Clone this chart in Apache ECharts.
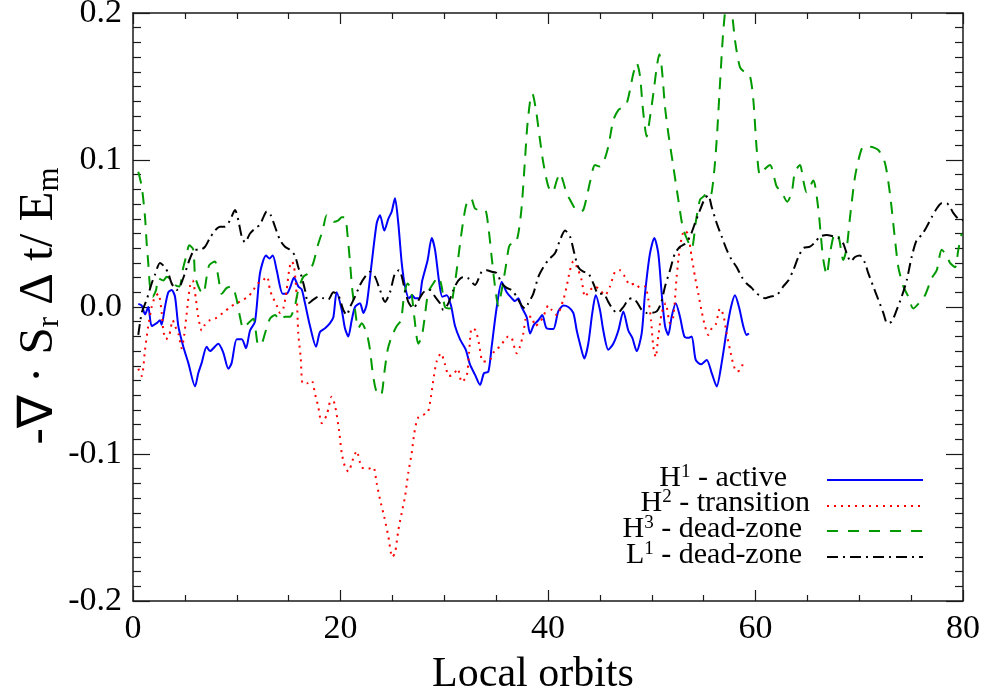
<!DOCTYPE html>
<html>
<head>
<meta charset="utf-8">
<script src="https://cdn.jsdelivr.net/npm/echarts@6/dist/echarts.min.js"></script>
<style>html,body{margin:0;padding:0;background:#fff;}#chart{width:987px;height:693px;}</style>
</head>
<body>
<div id="chart"></div>
<script>
// ---- data (x: local orbits, y: -div S_r dt / E_m) ----
const xTickValues = [0, 20, 40, 60, 80];
const xTickLabels = ['0', '20', '40', '60', '80'];
const yTickValues = [-0.2, -0.1, 0, 0.1, 0.2];
const yTickLabels = ['-0.2', '-0.1', '0.0', '0.1', '0.2'];
const seriesNames = ['H1 - active', 'H2 - transition', 'H3 - dead-zone', 'L1 - dead-zone'];

const h1Active = [[0.51,0.002],[0.84,0.001],[1.16,-0.005],[1.47,0.000],[1.80,-0.013],[2.28,-0.011],[2.60,-0.009],[2.76,-0.012],[3.08,0.000],[3.40,0.010],[3.73,0.0115],[4.05,0.007],[4.37,-0.013],[4.85,-0.027],[5.33,-0.038],[5.98,-0.054],[6.29,-0.045],[6.62,-0.038],[7.10,-0.027],[7.42,-0.030],[8.22,-0.025],[8.70,-0.031],[9.19,-0.042],[9.51,-0.038],[10.00,-0.022],[10.48,-0.022],[10.89,-0.028],[11.28,-0.016],[11.76,-0.010],[12.24,0.023],[12.82,0.035],[13.14,0.033],[13.47,0.035],[13.85,0.025],[14.43,0.009],[14.81,0.009],[15.13,0.013],[15.52,0.020],[15.93,0.014],[16.26,0.012],[16.58,0.0025],[17.06,-0.013],[17.64,-0.027],[18.02,-0.017],[18.51,-0.0145],[18.99,-0.011],[19.31,-0.007],[19.63,0.010],[20.12,-0.002],[20.43,-0.0145],[20.75,-0.020],[21.08,-0.009],[21.40,0.000],[21.88,0.0025],[22.20,-0.004],[22.53,0.002],[23.01,0.030],[23.49,0.057],[23.81,0.0625],[24.22,0.052],[24.61,0.060],[24.94,0.065],[25.25,0.074],[25.57,0.057],[25.90,0.030],[26.22,0.014],[26.60,0.006],[26.92,0.008],[27.18,0.006],[27.57,0.006],[27.88,0.018],[28.40,0.032],[28.79,0.047],[29.11,0.039],[29.49,0.018],[29.81,0.007],[30.24,0.008],[30.65,0.001],[31.04,-0.013],[31.52,-0.022],[32.07,-0.029],[32.48,-0.039],[32.96,-0.046],[33.45,-0.053],[33.83,-0.045],[34.25,-0.044],[34.57,-0.027],[35.06,0.000],[35.54,0.017],[36.02,0.010],[36.50,0.006],[36.82,0.004],[37.14,0.006],[37.46,0.000],[37.95,-0.007],[38.27,-0.018],[38.65,-0.012],[39.07,-0.009],[39.45,-0.0055],[39.87,-0.0145],[40.51,-0.015],[40.99,-0.003],[41.48,0.001],[41.96,0.000],[42.44,-0.004],[42.77,-0.016],[43.08,-0.025],[43.50,-0.035],[43.88,-0.025],[44.27,-0.004],[44.60,0.008],[45.01,-0.002],[45.33,-0.016],[45.81,-0.029],[46.29,-0.025],[46.78,-0.016],[47.26,-0.003],[47.74,-0.016],[48.13,-0.021],[48.55,-0.030],[49.03,-0.018],[49.35,0.009],[49.83,0.0365],[50.25,0.047],[50.63,0.0365],[50.96,0.009],[51.28,-0.013],[51.59,-0.019],[51.92,-0.0066],[52.31,0.0025],[52.72,-0.0066],[53.14,-0.020],[53.52,-0.021],[53.85,-0.020],[54.24,-0.036],[54.75,-0.039],[55.30,-0.036],[55.78,-0.045],[56.26,-0.054],[56.74,-0.038],[57.22,-0.016],[57.64,0.000],[58.02,0.008],[58.41,0.000],[58.82,-0.013],[59.15,-0.019],[59.37,-0.018]];

const h2Transition = [[0.51,-0.042],[0.84,-0.047],[1.16,-0.029],[1.47,-0.013],[1.80,0.000],[2.12,0.007],[2.44,0.009],[2.77,-0.004],[2.92,-0.016],[3.18,-0.022],[3.50,-0.019],[3.83,-0.009],[4.05,-0.013],[4.37,-0.018],[4.69,-0.028],[4.92,-0.020],[5.18,-0.004],[5.49,0.014],[5.75,0.018],[6.07,0.005],[6.29,-0.0066],[6.62,-0.016],[6.94,-0.012],[7.42,-0.009],[7.90,-0.008],[8.39,-0.0055],[8.87,-0.003],[9.35,0.000],[10.00,0.0025],[10.63,0.005],[11.11,0.007],[11.60,0.0115],[12.02,0.016],[12.40,0.017],[12.72,0.0195],[12.94,0.0205],[13.20,0.0115],[13.52,0.006],[13.85,0.001],[14.17,-0.004],[14.49,-0.001],[14.81,0.0115],[15.07,0.026],[15.30,0.031],[15.52,0.028],[15.78,0.007],[15.93,-0.018],[16.16,-0.034],[16.36,-0.052],[16.74,-0.052],[17.22,-0.050],[17.54,-0.059],[17.86,-0.068],[18.19,-0.079],[18.67,-0.0735],[19.15,-0.061],[19.47,-0.067],[19.86,-0.084],[20.12,-0.0995],[20.43,-0.1086],[20.75,-0.112],[21.23,-0.103],[21.56,-0.098],[22.04,-0.109],[22.68,-0.110],[23.16,-0.109],[23.49,-0.120],[23.81,-0.131],[24.22,-0.143],[24.61,-0.156],[24.99,-0.170],[25.25,-0.1675],[25.57,-0.152],[25.90,-0.140],[26.22,-0.129],[26.53,-0.113],[26.86,-0.0995],[27.11,-0.086],[27.44,-0.0757],[27.88,-0.0735],[28.40,-0.072],[28.72,-0.061],[28.94,-0.050],[29.27,-0.037],[29.69,-0.0315],[30.07,-0.039],[30.46,-0.047],[30.87,-0.046],[31.30,-0.042],[31.68,-0.051],[32.16,-0.047],[32.39,-0.0315],[32.65,-0.0145],[33.03,-0.016],[33.35,-0.025],[33.71,-0.037],[34.09,-0.037],[34.51,-0.035],[34.89,-0.029],[35.37,-0.027],[35.86,-0.022],[36.17,-0.020],[36.50,-0.021],[36.98,-0.0315],[37.30,-0.027],[37.62,-0.018],[37.95,-0.0066],[38.43,-0.0066],[38.75,-0.013],[39.13,-0.011],[39.55,-0.0066],[40.03,0.001],[40.35,-0.002],[40.84,-0.0055],[41.48,0.005],[41.80,0.014],[42.12,0.025],[42.44,0.031],[42.92,0.025],[43.25,0.018],[43.57,0.007],[44.05,0.0115],[44.53,0.014],[45.01,0.0115],[45.49,0.008],[45.98,0.014],[46.46,0.024],[46.94,0.025],[47.42,0.0205],[47.90,0.015],[48.39,0.016],[48.87,0.013],[49.35,0.014],[49.67,0.005],[49.93,-0.009],[50.15,-0.027],[50.38,-0.034],[50.63,-0.020],[50.96,-0.004],[51.34,0.0025],[51.76,-0.011],[52.08,-0.0066],[52.40,0.0205],[52.72,0.041],[53.14,0.052],[53.47,0.050],[53.85,0.034],[54.17,0.0205],[54.49,0.009],[54.81,-0.003],[55.13,-0.013],[55.45,-0.019],[55.78,-0.0145],[56.16,-0.012],[56.58,-0.001],[56.90,-0.0055],[57.22,-0.018],[57.54,-0.029],[57.86,-0.039],[58.19,-0.044],[58.51,-0.043],[58.82,-0.038]];

const h3DeadZone = [[0.51,0.092],[0.84,0.082],[1.16,0.061],[1.32,0.043],[1.47,0.030],[1.64,0.014],[1.90,0.007],[2.22,0.0115],[2.44,0.0195],[2.92,0.018],[3.25,0.0205],[3.57,0.019],[4.05,0.015],[4.46,0.014],[4.85,0.027],[5.11,0.034],[5.43,0.042],[5.81,0.039],[6.00,0.0205],[6.46,0.0115],[6.78,0.009],[7.10,0.0205],[7.35,0.0285],[7.90,0.031],[8.22,0.0205],[8.55,0.009],[9.03,0.013],[9.51,0.014],[9.93,0.007],[10.31,-0.0066],[10.63,-0.0145],[11.11,-0.011],[11.60,-0.008],[12.08,-0.026],[12.40,-0.025],[12.72,-0.018],[13.20,-0.008],[13.69,-0.0055],[14.17,-0.009],[14.65,-0.0066],[15.13,-0.0066],[15.61,0.001],[15.93,0.0115],[16.41,0.0205],[16.90,0.023],[17.38,0.030],[17.86,0.043],[18.28,0.052],[18.67,0.0625],[18.99,0.061],[19.37,0.058],[19.79,0.059],[20.12,0.061],[20.43,0.061],[20.69,0.048],[20.92,0.030],[21.14,0.0115],[21.40,-0.002],[21.72,-0.0145],[22.04,-0.011],[22.53,-0.018],[22.84,-0.029],[23.07,-0.043],[23.33,-0.054],[23.64,-0.060],[23.97,-0.059],[24.22,-0.045],[24.55,-0.029],[24.94,-0.020],[25.42,-0.013],[25.83,-0.009],[26.15,0.009],[26.48,0.016],[26.80,0.0115],[27.11,-0.0066],[27.50,-0.025],[27.83,-0.020],[28.08,-0.009],[28.46,0.010],[28.94,0.016],[29.43,0.0205],[29.75,0.014],[30.07,0.000],[30.55,-0.001],[30.87,0.009],[31.20,0.025],[31.52,0.043],[31.84,0.059],[32.16,0.0705],[32.58,0.074],[32.96,0.067],[33.45,0.066],[33.93,0.066],[34.25,0.0546],[34.57,0.034],[34.89,0.014],[35.21,0.001],[35.54,0.0115],[35.92,0.027],[36.24,0.041],[36.50,0.043],[36.82,0.043],[37.14,0.050],[37.46,0.068],[37.78,0.100],[38.00,0.1227],[38.33,0.143],[38.49,0.145],[38.84,0.134],[39.23,0.1136],[39.55,0.098],[40.03,0.082],[40.45,0.078],[40.84,0.086],[41.16,0.091],[41.48,0.085],[41.80,0.077],[42.12,0.073],[42.60,0.067],[43.08,0.065],[43.40,0.066],[43.74,0.075],[44.05,0.085],[44.53,0.0966],[45.01,0.0955],[45.33,0.098],[45.81,0.109],[46.29,0.127],[46.78,0.134],[47.26,0.136],[47.59,0.1386],[47.90,0.1476],[48.23,0.159],[48.55,0.166],[48.87,0.157],[49.13,0.136],[49.51,0.116],[49.83,0.129],[50.15,0.145],[50.48,0.163],[50.73,0.172],[50.96,0.163],[51.28,0.136],[51.60,0.118],[52.08,0.0955],[52.56,0.073],[52.98,0.0546],[53.43,0.0456],[53.85,0.040],[54.27,0.059],[54.65,0.073],[54.97,0.075],[55.45,0.078],[55.68,0.076],[56.00,0.091],[56.26,0.1136],[56.58,0.152],[56.90,0.188],[57.25,0.207],[57.71,0.200],[58.02,0.1816],[58.51,0.163],[59.08,0.159],[59.47,0.157],[59.79,0.141],[60.12,0.107],[60.43,0.090],[60.92,0.094],[61.40,0.0966],[62.04,0.082],[62.53,0.078],[63.06,0.0716],[63.49,0.078],[63.81,0.092],[64.29,0.0966],[64.61,0.086],[64.93,0.078],[65.57,0.086],[66.05,0.067],[66.28,0.050],[66.54,0.032],[66.86,0.022],[67.18,0.0365],[67.66,0.050],[67.98,0.049],[68.47,0.032],[68.79,0.040],[69.11,0.061],[69.59,0.0886],[70.07,0.104],[70.39,0.109],[71.04,0.109],[71.84,0.1068],[72.48,0.098],[72.96,0.077],[73.45,0.0456],[73.77,0.027],[74.25,0.014],[74.73,0.007],[75.21,-0.001],[75.86,0.0035],[76.34,0.008],[76.98,0.0195],[77.47,0.025],[77.95,0.039],[78.43,0.035],[78.75,0.030],[79.23,0.027],[79.55,0.039],[79.87,0.050]];

const l1DeadZone = [[0.51,-0.019],[0.84,-0.004],[1.32,0.005],[1.80,0.016],[2.12,0.022],[2.60,0.030],[3.08,0.027],[3.40,0.023],[3.73,0.016],[4.21,0.0115],[4.53,0.014],[5.01,0.023],[5.49,0.033],[5.98,0.039],[6.46,0.039],[6.94,0.041],[7.42,0.047],[7.90,0.052],[8.39,0.0546],[8.87,0.0546],[9.35,0.059],[9.83,0.066],[10.15,0.059],[10.48,0.048],[10.80,0.044],[11.28,0.050],[11.76,0.0535],[12.24,0.056],[12.56,0.061],[12.89,0.065],[13.27,0.0625],[13.69,0.0546],[14.17,0.0456],[14.65,0.041],[15.13,0.039],[15.61,0.035],[15.93,0.027],[16.26,0.0205],[16.58,0.0115],[16.90,0.0025],[17.38,0.005],[17.86,0.007],[18.34,0.006],[18.82,0.005],[19.31,0.010],[19.79,0.008],[20.27,-0.002],[20.60,-0.0055],[20.92,0.000],[21.40,0.007],[21.88,0.015],[22.36,0.0205],[22.84,0.024],[23.33,0.0205],[23.81,0.0115],[24.29,0.0035],[24.77,0.010],[25.25,0.023],[25.64,0.025],[26.22,0.0115],[26.53,0.0035],[27.02,-0.001],[27.44,0.0035],[27.88,0.009],[28.31,0.0115],[28.63,0.0115],[29.11,0.007],[29.59,0.0025],[29.91,-0.002],[30.39,0.0025],[30.87,0.0115],[31.35,0.018],[31.84,0.0205],[32.32,0.0195],[32.96,0.015],[33.61,0.024],[34.09,0.025],[34.57,0.024],[35.06,0.023],[35.54,0.016],[36.02,0.013],[36.50,0.0115],[36.98,0.007],[37.46,0.001],[37.78,-0.001],[38.10,0.0025],[38.58,0.009],[39.07,0.0205],[39.55,0.027],[40.03,0.032],[40.67,0.0365],[41.16,0.0456],[41.64,0.052],[42.12,0.048],[42.54,0.0365],[42.92,0.027],[43.40,0.024],[43.88,0.023],[44.37,0.016],[44.85,0.009],[45.33,0.009],[45.81,0.0035],[46.29,-0.002],[46.72,-0.004],[47.26,0.000],[47.74,0.005],[48.13,0.006],[48.55,0.0035],[49.03,-0.002],[49.51,-0.004],[50.00,-0.004],[50.48,-0.003],[50.89,0.0025],[51.28,0.014],[51.76,0.025],[52.24,0.0365],[52.72,0.041],[53.20,0.043],[53.69,0.048],[54.17,0.057],[54.65,0.066],[55.13,0.074],[55.45,0.076],[55.78,0.068],[56.26,0.057],[56.74,0.048],[57.22,0.039],[57.71,0.032],[58.19,0.027],[58.67,0.0205],[59.15,0.016],[59.63,0.013],[60.12,0.009],[60.43,0.008],[60.92,0.006],[61.40,0.007],[62.04,0.008],[62.68,0.014],[63.16,0.018],[63.64,0.025],[64.13,0.034],[64.61,0.040],[65.25,0.041],[65.73,0.044],[66.22,0.048],[66.86,0.049],[67.50,0.048],[67.98,0.047],[68.47,0.043],[68.79,0.0365],[69.18,0.031],[69.59,0.034],[70.07,0.035],[70.55,0.030],[70.87,0.023],[71.35,0.014],[71.84,0.005],[72.32,-0.004],[72.70,-0.011],[73.13,-0.010],[73.61,-0.002],[74.09,0.007],[74.57,0.018],[75.05,0.034],[75.54,0.0456],[76.02,0.049],[76.50,0.0546],[76.98,0.061],[77.47,0.067],[77.95,0.0705],[78.43,0.0705],[78.75,0.068],[79.06,0.064],[79.55,0.060],[80.00,0.059]];

// ---- chart ----
const FONT = 'Liberation Serif';
const AX = '#1a1a1a';
const chart = echarts.init(document.getElementById('chart'), null, {renderer: 'canvas'});

function labelFor(values, labels) {
  return function (v) {
    for (let i = 0; i < values.length; i++) if (Math.abs(values[i] - v) < 1e-9) return labels[i];
    return '';
  };
}

const xAxisCommon = {
  type: 'value', min: 0, max: 80, interval: 20,
  axisLine: {show: true, onZero: false, lineStyle: {color: AX, width: 1.5}},
  axisTick: {show: true, inside: true, length: 11, lineStyle: {color: AX, width: 1.2}},
  minorTick: {show: true, splitNumber: 4, length: 6, lineStyle: {color: AX, width: 1.2}},
  splitLine: {show: false}
};
const yAxisCommon = {
  type: 'value', min: -0.2, max: 0.2, interval: 0.1,
  axisLine: {show: true, onZero: false, lineStyle: {color: AX, width: 1.5}},
  axisTick: {show: true, inside: true, length: 17, lineStyle: {color: AX, width: 1.2}},
  minorTick: {show: true, splitNumber: 10, length: 8, lineStyle: {color: AX, width: 1.2}},
  splitLine: {show: false}
};

const legendRows = [
  {main: 'H', sup: '1', rest: ' - active', right: 787, y: 478, color: '#0000ff', dash: null},
  {main: 'H', sup: '2', rest: ' - transition', right: 810, y: 503, color: '#ff0000', dash: [2, 5]},
  {main: 'H', sup: '3', rest: ' - dead-zone', right: 802, y: 529, color: '#009a00', dash: [11, 10]},
  {main: 'L', sup: '1', rest: ' - dead-zone', right: 802, y: 555, color: '#000000', dash: [11, 5, 2, 5]}
];
const legendRich = {
  b: {fontFamily: FONT, fontSize: 30, color: '#000', lineHeight: 30, verticalAlign: 'bottom'},
  s: {fontFamily: FONT, fontSize: 19, color: '#000', lineHeight: 14, verticalAlign: 'top'}
};
const lineY = [480, 506, 531, 557];
const graphics = [];
legendRows.forEach(function (r, i) {
  graphics.push({
    type: 'text', x: r.right, y: r.y, silent: true,
    style: {text: '{b|' + r.main + '}{s|' + r.sup + '}{b|' + r.rest + '}', rich: legendRich,
      textAlign: 'right', textVerticalAlign: 'middle'}
  });
  graphics.push({
    type: 'line', silent: true,
    shape: {x1: 827, y1: lineY[i], x2: 923, y2: lineY[i]},
    style: {stroke: r.color, lineWidth: 2, lineDash: r.dash}
  });
});
// y-axis title (rotated)
graphics.push({
  type: 'text', x: 40, y: 306, rotation: Math.PI / 2, silent: true,
  style: {
    text: '{b|-\u2207 \u00b7 S}{u|r}{b| \u0394 t/ E}{u|m}',
    rich: {
      b: {fontFamily: FONT, fontSize: 49, color: '#000', lineHeight: 50, verticalAlign: 'top'},
      u: {fontFamily: FONT, fontSize: 31, color: '#000', lineHeight: 22, verticalAlign: 'bottom'}
    },
    textAlign: 'center', textVerticalAlign: 'middle'
  }
});

function mkSeries(name, data, color, type, width) {
  return {
    name: name, type: 'line', data: data, xAxisIndex: 0, yAxisIndex: 0,
    showSymbol: false, symbol: 'none', smooth: 0.25, clip: true,
    lineStyle: {color: color, width: width, type: type},
    emphasis: {disabled: true}
  };
}

chart.setOption({
  animation: false,
  backgroundColor: '#fff',
  grid: {left: 133, right: 24, top: 13, bottom: 92, containLabel: false, outerBoundsMode: 'none'},
  xAxis: [
    Object.assign({}, xAxisCommon, {
      position: 'bottom',
      axisLabel: {show: true, margin: 11, fontFamily: FONT, fontSize: 34, color: '#000',
        formatter: labelFor(xTickValues, xTickLabels)},
      name: 'Local orbits', nameLocation: 'middle', nameGap: 53,
      nameTextStyle: {fontFamily: FONT, fontSize: 42, color: '#000', padding: [0, 30, 0, 0]}
    }),
    Object.assign({}, xAxisCommon, {position: 'top', axisLabel: {show: false}})
  ],
  yAxis: [
    Object.assign({}, yAxisCommon, {
      position: 'left',
      axisLabel: {show: true, margin: 11, fontFamily: FONT, fontSize: 34, color: '#000',
        formatter: labelFor(yTickValues, yTickLabels)}
    }),
    Object.assign({}, yAxisCommon, {position: 'right', axisLabel: {show: false}})
  ],
  series: [
    mkSeries(seriesNames[0], h1Active, '#0000ff', 'solid', 2),
    mkSeries(seriesNames[1], h2Transition, '#ff0000', [2, 5], 2),
    mkSeries(seriesNames[2], h3DeadZone, '#009a00', [12, 9], 2),
    mkSeries(seriesNames[3], l1DeadZone, '#000000', [11, 5, 2, 5], 2)
  ],
  graphic: graphics
});
</script>
</body>
</html>
